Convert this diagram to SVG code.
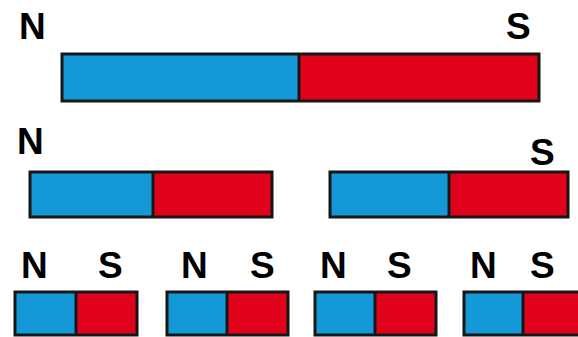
<svg xmlns="http://www.w3.org/2000/svg" width="578" height="337" viewBox="0 0 578 337">
<style>
.n{fill:#1598d8}
.s{fill:#e0021b}
.o{fill:none;stroke:#161616;stroke-width:3}
.d{stroke:#161616;stroke-width:3}
text{font-family:"Liberation Sans",Arial,sans-serif;font-weight:bold;font-size:37px;fill:#000}
</style>
<rect width="578" height="337" fill="#fff"/>
<g id="magnet1">
<rect class="n" x="62" y="54" width="237" height="47"/>
<rect class="s" x="299" y="54" width="240" height="47"/>
<line class="d" x1="299" y1="54" x2="299" y2="101"/>
<rect class="o" x="62" y="54" width="477" height="47"/>
<text x="19" y="39">N</text>
<text x="506" y="39">S</text>
</g>
<g id="magnet2a">
<rect class="n" x="30" y="172" width="123" height="45"/>
<rect class="s" x="153" y="172" width="119" height="45"/>
<line class="d" x1="153" y1="172" x2="153" y2="217"/>
<rect class="o" x="30" y="172" width="242" height="45"/>
<text x="17" y="154">N</text>
</g>
<g id="magnet2b">
<rect class="n" x="330" y="172" width="119" height="45"/>
<rect class="s" x="449" y="172" width="119" height="45"/>
<line class="d" x1="449" y1="172" x2="449" y2="217"/>
<rect class="o" x="330" y="172" width="238" height="45"/>
<text x="530" y="165">S</text>
</g>
<g id="magnet3a">
<rect class="n" x="15" y="292" width="61" height="43"/>
<rect class="s" x="76" y="292" width="61" height="43"/>
<line class="d" x1="76" y1="292" x2="76" y2="335"/>
<rect class="o" x="15" y="292" width="122" height="43"/>
<text x="21" y="278">N</text>
<text x="98" y="278">S</text>
</g>
<g id="magnet3b">
<rect class="n" x="167" y="292" width="60" height="43"/>
<rect class="s" x="227" y="292" width="61" height="43"/>
<line class="d" x1="227" y1="292" x2="227" y2="335"/>
<rect class="o" x="167" y="292" width="121" height="43"/>
<text x="181" y="278">N</text>
<text x="250" y="278">S</text>
</g>
<g id="magnet3c">
<rect class="n" x="315" y="292" width="60" height="43"/>
<rect class="s" x="375" y="292" width="61" height="43"/>
<line class="d" x1="375" y1="292" x2="375" y2="335"/>
<rect class="o" x="315" y="292" width="121" height="43"/>
<text x="320" y="278">N</text>
<text x="387" y="278">S</text>
</g>
<g id="magnet3d">
<rect class="n" x="464" y="292" width="59" height="43"/>
<rect class="s" x="523" y="292" width="70" height="43"/>
<line class="d" x1="523" y1="292" x2="523" y2="335"/>
<rect class="o" x="464" y="292" width="130" height="43"/>
<text x="470" y="278">N</text>
<text x="530" y="278">S</text>
</g>
</svg>
